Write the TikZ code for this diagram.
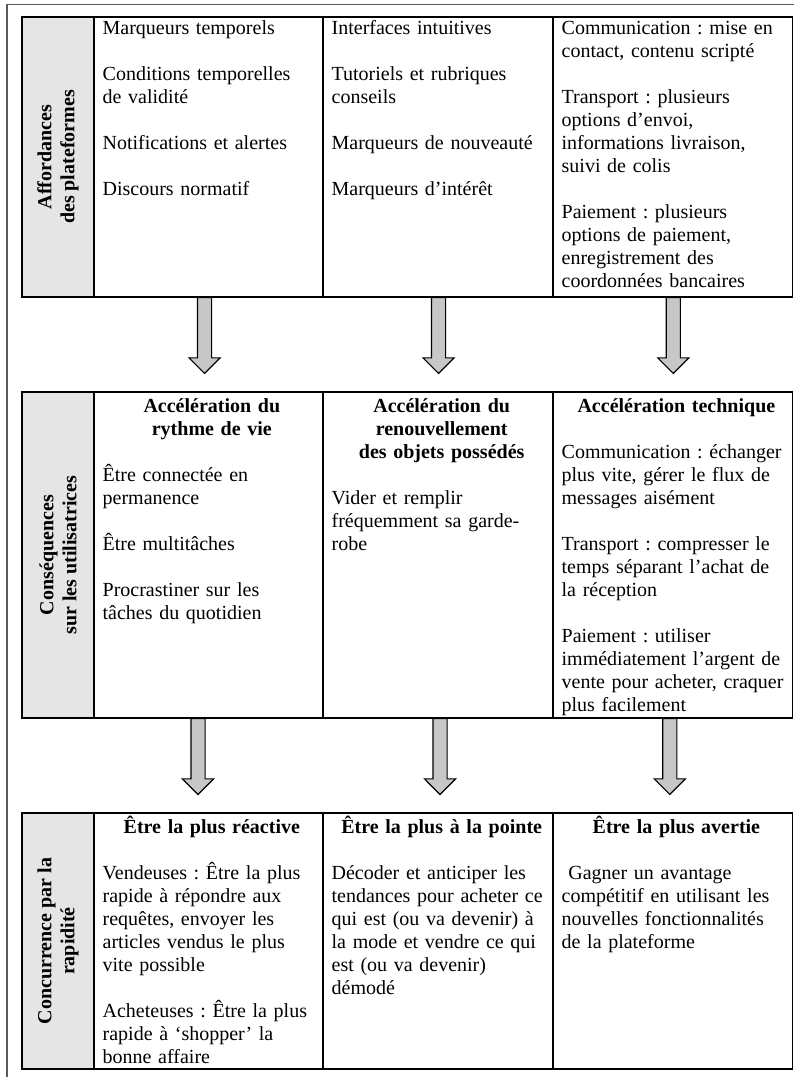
\documentclass[tikz,border=0pt]{standalone}
\usepackage{fontspec}
\setmainfont{Liberation Serif}
\usetikzlibrary{positioning,shapes.arrows}

\newcommand{\colhead}[1]{{\centering\bfseries #1\par}\vspace{\baselineskip}}
\newcommand{\vgap}{\\[\baselineskip]}

\begin{document}
\begin{tikzpicture}[
        cell/.style={
                rectangle,
                draw=black,
                line width=0.75pt,
                inner sep=0pt,
                outer sep=0pt
            },
        rowone/.style={minimum height=168pt},
        rowtwo/.style={minimum height=195.6pt},
        rowthree/.style={minimum height=153.6pt},
        headcol/.style={cell, fill=black!10, minimum width=43.2pt},
        colone/.style={cell, minimum width=137.4pt},
        coltwo/.style={cell, minimum width=138pt},
        colthree/.style={cell, minimum width=143.7pt},
        celltext/.style={
                anchor=base west,
                inner sep=0pt,
                align=left,
                text width=#1,
                font=\fontsize{12pt}{13.8pt}\selectfont\frenchspacing
            },
        rowtitle/.style={
                rotate=90,
                align=center,
                inner sep=0pt,
                font=\fontsize{12pt}{13.8pt}\selectfont\bfseries
            },
        bigarrow/.style={
                single arrow,
                draw=black,
                line width=0.7pt,
                fill=black!22,
                minimum height=45.5pt,
                minimum width=18pt,
                single arrow head extend=5.1pt,
                single arrow head indent=0pt,
                inner xsep=0pt,
                inner ysep=3.9pt,
                rotate=-90,
                anchor=tail
            },
        outerframe/.style={draw=black!65, line width=0.9pt}
    ]
    \useasboundingbox (0,0) rectangle (476.4pt,-646.2pt);
    \draw[outerframe] (4.2pt,-646.2pt) |- (476.4pt,-2.7pt);

    \node[headcol, rowone, anchor=north west] (affLabel) at (13.2pt,-10.2pt) {};
    \node[colone, rowone] (affTemps) [right=0pt of affLabel] {};
    \node[coltwo, rowone] (affNouv) [right=0pt of affTemps] {};
    \node[colthree, rowone] (affTech) [right=0pt of affNouv] {};

    \node[headcol, rowtwo] (consLabel) [below=57pt of affLabel] {};
    \node[colone, rowtwo] (consRythme) [right=0pt of consLabel] {};
    \node[coltwo, rowtwo] (consObjets) [right=0pt of consRythme] {};
    \node[colthree, rowtwo] (consTech) [right=0pt of consObjets] {};

    \node[headcol, rowthree] (concLabel) [below=57pt of consLabel] {};
    \node[colone, rowthree] (concReactive) [right=0pt of concLabel] {};
    \node[coltwo, rowthree] (concPointe) [right=0pt of concReactive] {};
    \node[colthree, rowthree] (concAvertie) [right=0pt of concPointe] {};

    \node[rowtitle] (affTitle) at (affLabel.center) {Affordances\\des plateformes};
    \node[rowtitle] (consTitle) at (consLabel.center) {Conséquences\\sur les utilisatrices};
    \node[rowtitle] (concTitle) at (concLabel.center) {Concurrence par la\\rapidité};

    \node[celltext=131pt] (affTempsTxt) at ([shift={(5pt,-10.2pt)}]affTemps.north west) {Marqueurs temporels\vgap Conditions temporelles\\de validité\vgap Notifications et alertes\vgap Discours normatif};
    \node[celltext=132pt] (affNouvTxt) at ([shift={(5pt,-10.2pt)}]affNouv.north west) {Interfaces intuitives\vgap Tutoriels et rubriques\\conseils\vgap Marqueurs de nouveauté\vgap Marqueurs d’intérêt};
    \node[celltext=137.7pt] (affTechTxt) at ([shift={(5pt,-10.2pt)}]affTech.north west) {Communication : mise en\\contact, contenu scripté\vgap Transport : plusieurs\\options d’envoi,\\informations livraison,\\suivi de colis\vgap Paiement : plusieurs\\options de paiement,\\enregistrement des\\coordonnées bancaires};

    \node[celltext=131pt] (consRythmeTxt) at ([shift={(5pt,-12pt)}]consRythme.north west) {\colhead{Accélération du\\rythme de vie} Être connectée en\\permanence\vgap Être multitâches\vgap Procrastiner sur les\\tâches du quotidien};
    \node[celltext=132pt] (consObjetsTxt) at ([shift={(5pt,-12pt)}]consObjets.north west) {\colhead{Accélération du\\renouvellement\\des objets possédés} Vider et remplir\\fréquemment sa garde-\\robe};
    \node[celltext=137.7pt] (consTechTxt) at ([shift={(5pt,-12pt)}]consTech.north west) {\colhead{Accélération technique} Communication : échanger\\plus vite, gérer le flux de\\messages aisément\vgap Transport : compresser le\\temps séparant l’achat de\\la réception\vgap Paiement : utiliser\\immédiatement l’argent de\\vente pour acheter, craquer\\plus facilement};

    \node[celltext=131pt] (concReactiveTxt) at ([shift={(5pt,-12pt)}]concReactive.north west) {\colhead{Être la plus réactive} Vendeuses : Être la plus\\rapide à répondre aux\\requêtes, envoyer les\\articles vendus le plus\\vite possible\vgap Acheteuses : Être la plus\\rapide à ‘shopper’ la\\bonne affaire};
    \node[celltext=132pt] (concPointeTxt) at ([shift={(5pt,-12pt)}]concPointe.north west) {\colhead{Être la plus à la pointe} Décoder et anticiper les\\tendances pour acheter ce\\qui est (ou va devenir) à\\la mode et vendre ce qui\\est (ou va devenir)\\démodé};
    \node[celltext=137.7pt] (concAvertieTxt) at ([shift={(5pt,-12pt)}]concAvertie.north west) {\colhead{Être la plus avertie} ~Gagner un avantage\\compétitif en utilisant les\\nouvelles fonctionnalités\\de la plateforme};

    \node[bigarrow] (arrTemps) at ([xshift=-2.4pt]affTemps.south) {};
    \node[bigarrow] (arrNouv) at ([xshift=0.3pt]affNouv.south) {};
    \node[bigarrow] (arrTech) at ([xshift=0.3pt]affTech.south) {};
    \node[bigarrow] (arrRythme) at ([xshift=-6.3pt]consRythme.south) {};
    \node[bigarrow] (arrObjets) at ([xshift=1.2pt]consObjets.south) {};
    \node[bigarrow] (arrConsTech) at ([xshift=-1.8pt]consTech.south) {};
\end{tikzpicture}
\end{document}
